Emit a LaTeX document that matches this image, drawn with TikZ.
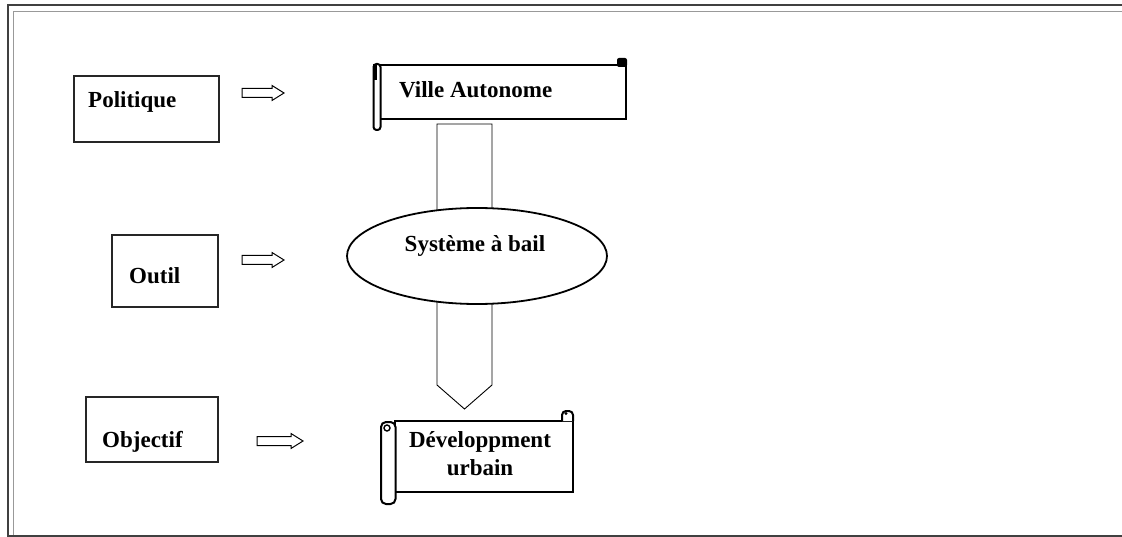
\documentclass[tikz,border=0pt]{standalone}
\usepackage{fontspec}
\setmainfont{Liberation Serif}
\usetikzlibrary{shapes.geometric}

% hollow block arrow: #1 = tail point, #2 = total length
\newcommand\hollowarrow[2]{%
  \draw[harrow, shift={#1}] (0,-4.5) -- ({#2-12},-4.5) -- ({#2-12},-7.5) -- (#2,0)
    -- ({#2-12},7.5) -- ({#2-12},4.5) -- (0,4.5) -- cycle;}

\begin{document}
\begin{tikzpicture}[x=1pt,y=-1pt,
  box/.style={draw=black!85, line width=1.6pt, inner sep=0pt},
  lbl/.style={font=\fontsize{23}{28}\selectfont\bfseries, inner sep=0pt, anchor=base west},
  clbl/.style={lbl, anchor=base},
  harrow/.style={draw=black, line width=1pt, fill=white, line join=miter},
  scrl/.style={draw=black, line width=2pt, fill=white, line join=miter},
  thin/.style={draw=black, line width=0.9pt, fill=white}]
\useasboundingbox (0,0) rectangle (1122,537);

% outer frame (open to the right)
\draw[line width=2pt, black!75] (1122,5.5) -- (7.5,5.5) -- (7.5,535.5) -- (1122,535.5);
\draw[line width=1.4pt, black!40] (1122,11.5) -- (13.5,11.5) -- (13.5,534.5);

% left column boxes
\node[box, minimum width=145pt, minimum height=66pt] (polbox) at (146.5,109) {};
\node[lbl] (pol) at (88,108) {Politique};
\node[box, minimum width=106pt, minimum height=72pt] (outbox) at (165,271) {};
\node[lbl] (out) at (129,284) {Outil};
\node[box, minimum width=132pt, minimum height=65pt] (objbox) at (152,429.5) {};
\node[lbl] (obj) at (102,447) {Objectif};

% hollow arrows
\hollowarrow{(242,93)}{42}
\hollowarrow{(242,260)}{42}
\hollowarrow{(257,441)}{46}

% large downward block arrow
\draw[thin] (437,124) -- (437,385) -- (464.5,409) -- (492,385) -- (492,124) -- cycle;

% top scroll
\draw[scrl] (380,65) rectangle (626,119);
\fill[black, rounded corners=2pt] (617,58) rectangle (627,67);
\draw[scrl, rounded corners=3pt] (373.5,64) rectangle (380.5,130);
\fill[black] (372.5,64) rectangle (377,80);
\node[lbl] (ville) at (399,98) {Ville Autonome};

% ellipse
\node[ellipse, draw=black, line width=1.8pt, fill=white, minimum width=260pt,
      minimum height=96pt, inner sep=0pt] (sys) at (477,256) {};
\node[clbl] (systxt) at (475,252) {Système à bail};

% bottom scroll
\draw[scrl] (395,421) rectangle (573,492);
\draw[scrl, rounded corners=4pt] (562,421) -- (562,411) -- (573,411) -- (573,421);
\fill[black] (566,413.5) circle (1.6pt);
\draw[scrl, rounded corners=5pt] (381,422) rectangle (395.5,504);
\draw[black, line width=1.4pt, fill=white] (387,428) circle (3pt);
\node[clbl] (dev1) at (480,447) {Développment};
\node[clbl] (dev2) at (480,475) {urbain};
\end{tikzpicture}
\end{document}
